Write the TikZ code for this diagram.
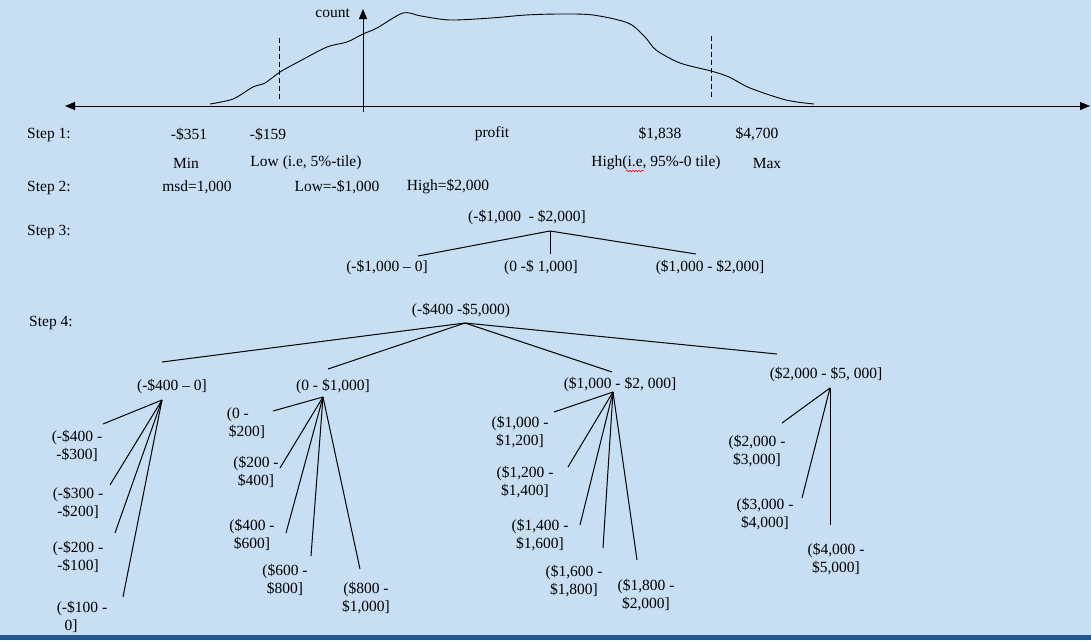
\documentclass[tikz,border=0pt]{standalone}
\usepackage{fontspec}
\setmainfont{Liberation Serif}
\usetikzlibrary{arrows.meta,decorations.pathmorphing}
\definecolor{bg}{RGB}{199,222,243}
\definecolor{band}{RGB}{32,88,150}
\begin{document}
\begin{tikzpicture}[x=1pt,y=-1pt,
  lbl/.style={inner sep=0pt, font=\fontsize{15.5}{18.5}\selectfont, text=black},
  two/.style={lbl, align=center},
  conn/.style={line width=1pt},
  tri/.tip={Triangle[length=10pt,width=8pt]}
]
\fill[bg] (0,0) rectangle (1091,640);
\fill[band] (0,635) rectangle (1091,640);
\useasboundingbox (0,0) rectangle (1091,640);

% axes
\coordinate (xl) at (65,106);
\coordinate (xr) at (1090,106);
\coordinate (yb) at (363,112);
\coordinate (yt) at (363,9);
\draw[conn,tri-tri] (xl) -- (xr);
\draw[conn,-tri] (yb) -- (yt);
\node[lbl,anchor=east] (count) at (350,13) {count};

% distribution curve
\draw[line width=0.9pt] plot[smooth,tension=0.5] coordinates {
 (210,104) (233,99) (253,87) (265,83) (280,72) (300,61) (327,47)
 (347,42) (363,34) (377,28) (403,13) (421,16) (450,20) (491,18)
 (526,15) (560,14) (593,15) (628,23) (645,37) (656,50) (680,63) (711,71)
 (729,77) (750,88) (786,100) (814,104)};

% percentile marks
\coordinate (d1t) at (279,38); \coordinate (d1b) at (279,100);
\coordinate (d2t) at (711,36); \coordinate (d2b) at (711,99);
\draw[line width=0.9pt,dash pattern=on 5pt off 3pt] (d1t) -- (d1b);
\draw[line width=0.9pt,dash pattern=on 5pt off 3pt] (d2t) -- (d2b);

% Step 1
\node[lbl,anchor=west] (s1) at (27,135) {Step 1:};
\node[lbl] (v351) at (189,134) {-\$351};
\node[lbl] (v159) at (268,134) {-\$159};
\node[lbl] (profit) at (492,134) {profit};
\node[lbl] (v1838) at (660,134) {\$1,838};
\node[lbl] (v4700) at (757,134) {\$4,700};
\node[lbl] (min) at (186,163) {Min};
\node[lbl] (low) at (306,163) {Low (i.e, 5\%-tile)};
\node[lbl] (high) at (656,163) {High(i.e, 95\%-0 tile)};
\node[lbl] (max) at (767,163) {Max};
\coordinate (sq1) at (626,171); \coordinate (sq2) at (644,171);
\draw[red,line width=0.6pt,decorate,decoration={snake,amplitude=0.8pt,segment length=3pt}] (sq1) -- (sq2);

% Step 2
\node[lbl,anchor=west] (s2) at (27,188) {Step 2:};
\node[lbl] (msd) at (197,187) {msd=1,000};
\node[lbl] (lowv) at (337,187) {Low=-\$1,000};
\node[lbl] (highv) at (448,187) {High=\$2,000};

% Step 3
\node[lbl,anchor=west] (s3) at (27,232) {Step 3:};
\node[lbl] (r3) at (527,218) {(-\$1,000\ \ - \$2,000]};
\node[lbl] (c31) at (387,268) {(-\$1,000 -- 0]};
\node[lbl] (c32) at (541,268) {(0 -\$ 1,000]};
\node[lbl] (c33) at (710,268) {(\$1,000 - \$2,000]};
\coordinate (j3) at (550,231);
\coordinate (e31) at (418,256);
\coordinate (e32) at (550,254);
\coordinate (e33) at (696,254);
\draw[conn] (j3) -- (e31);
\draw[conn] (j3) -- (e32);
\draw[conn] (j3) -- (e33);

% Step 4
\node[lbl,anchor=west] (s4) at (29,323) {Step 4:};
\node[lbl] (r4) at (461,311) {(-\$400 -\$5,000)};
\coordinate (j4) at (465,323);
\node[lbl] (a) at (172,387) {(-\$400 -- 0]};
\node[lbl] (b) at (333,387) {(0 - \$1,000]};
\node[lbl] (c) at (620,385) {(\$1,000 - \$2, 000]};
\node[lbl] (d) at (826,375) {(\$2,000 - \$5, 000]};
\coordinate (ea) at (162,362);
\coordinate (eb) at (328,369);
\coordinate (ec) at (612,372);
\coordinate (ed) at (777,354);
\draw[conn] (j4) -- (ea);
\draw[conn] (j4) -- (eb);
\draw[conn] (j4) -- (ec);
\draw[conn] (j4) -- (ed);

% leaves of (-$400 - 0]
\coordinate (ja) at (162,400);
\node[two] (a1) at (77,446) {(-\$400 -\\-\$300]};
\node[two] (a2) at (78,503) {(-\$300 -\\-\$200]};
\node[two] (a3) at (78,557) {(-\$200 -\\-\$100]};
\node[two] (a4) at (82,617) {(-\$100 -\\0]\hspace*{22pt}};
\coordinate (ea1) at (103,424);
\coordinate (ea2) at (110,485);
\coordinate (ea3) at (115,533);
\coordinate (ea4) at (123,597);
\foreach \e in {ea1,ea2,ea3,ea4} \draw[conn] (ja) -- (\e);

% leaves of (0 - $1,000]
\coordinate (jb) at (323,397);
\node[lbl,align=left] (b1) at (246,423) {(0 -\\\hspace*{2pt}\$200]};
\node[two] (b2) at (256,472) {(\$200 -\\\$400]};
\node[two] (b3) at (252,535) {(\$400 -\\\$600]};
\node[two] (b4) at (285,580) {(\$600 -\\\$800]};
\node[two] (b5) at (366,598) {(\$800 -\\\$1,000]};
\coordinate (eb1) at (273,411);
\coordinate (eb2) at (280,468);
\coordinate (eb3) at (286,533);
\coordinate (eb4) at (311,556);
\coordinate (eb5) at (360,569);
\foreach \e in {eb1,eb2,eb3,eb4,eb5} \draw[conn] (jb) -- (\e);

% leaves of ($1,000 - $2,000]
\coordinate (jc) at (613,392);
\node[two] (c1) at (520,432) {(\$1,000 -\\\$1,200]};
\node[two] (c2) at (525,482) {(\$1,200 -\\\$1,400]};
\node[two] (c3) at (540,535) {(\$1,400 -\\\$1,600]};
\node[two] (c4) at (574,581) {(\$1,600 -\\\$1,800]};
\node[two] (c5) at (646,595) {(\$1,800 -\\\$2,000]};
\coordinate (ec1) at (554,412);
\coordinate (ec2) at (568,467);
\coordinate (ec3) at (580,525);
\coordinate (ec4) at (603,548);
\coordinate (ec5) at (637,560);
\foreach \e in {ec1,ec2,ec3,ec4,ec5} \draw[conn] (jc) -- (\e);

% leaves of ($2,000 - $5,000]
\coordinate (jd) at (830,388);
\node[two] (d1) at (757,451) {(\$2,000 -\\\$3,000]};
\node[two] (d2) at (765,514) {(\$3,000 -\\\$4,000]};
\node[two] (d3) at (836,559) {(\$4,000 -\\\$5,000]};
\coordinate (ed1) at (782,423);
\coordinate (ed2) at (802,498);
\coordinate (ed3) at (830,525);
\foreach \e in {ed1,ed2,ed3} \draw[conn] (jd) -- (\e);
\end{tikzpicture}
\end{document}
